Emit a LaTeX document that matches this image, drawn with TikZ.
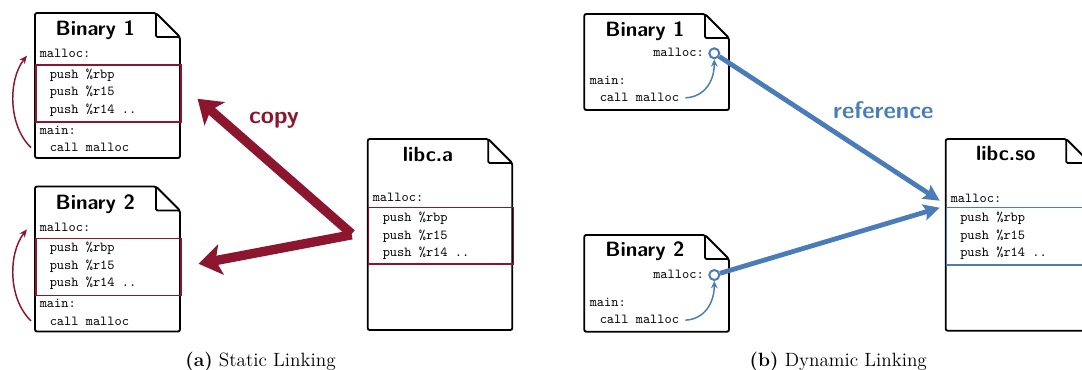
\documentclass[tikz,border=0pt]{standalone}
\usepackage{tikz}
\usetikzlibrary{positioning,calc,arrows.meta}
\definecolor{Crimson}{RGB}{140,22,46}
\definecolor{Steel}{RGB}{74,124,186}

% page with a folded corner: left, top, width, height (pixel units)
\newcommand{\docpage}[4]{%
  \draw[line width=1.4pt, rounded corners=1.5pt, fill=white] (#1,#2) -- (#1+#3-24,#2) -- (#1+#3,#2+24) -- (#1+#3,#2+#4) -- (#1,#2+#4) -- cycle;
  \draw[line width=1.4pt, rounded corners=1pt] (#1+#3-24,#2) -- (#1+#3-24,#2+24) -- (#1+#3,#2+24);
}
% the three push lines of malloc
\newcommand{\pushlines}[3]{%
  \node[code] (#1push1) at (#2,#3) {push \%rbp};
  \node[code] (#1push2) at (#2,#3+17.5) {push \%r15};
  \node[code] (#1push3) at (#2,#3+35) {push \%r14 ..};
}

\tikzset{
  title/.style={font=\fontsize{15.5}{17}\selectfont\sffamily\bfseries, anchor=base, inner sep=0},
  code/.style={font=\fontsize{10.3}{12}\selectfont\ttfamily, anchor=base west, inner sep=0},
  codebox/.style={draw=#1, line width=1.2pt, anchor=north west, inner sep=0,
    minimum width=145*0.75pt, minimum height=57*0.75pt},
  biglabel/.style={font=\fontsize{18}{20}\selectfont\sffamily\bfseries, anchor=base, inner sep=0},
  caption/.style={font=\fontsize{14.4}{16}\selectfont, anchor=base, inner sep=0},
  copyarrow/.style={draw=Crimson, line width=7pt, -{Stealth[length=17pt,width=23pt,inset=4pt]}},
  refarrow/.style={draw=Steel, line width=3.6pt, -{Stealth[length=12pt,width=12pt,inset=2pt]}},
  callarc/.style={draw=Crimson, line width=1.1pt, -{Stealth[length=6pt,width=5pt]}},
  callref/.style={draw=Steel, line width=1.1pt, -{Stealth[length=5.5pt,width=5pt]}},
  refdot/.style={circle, draw=Steel, line width=1.5pt, fill=white, minimum size=7.5pt, inner sep=0}
}

\begin{document}
\begin{tikzpicture}[x=0.75pt,y=-0.75pt]
\useasboundingbox (0,0) rectangle (1082,369);

% (a) static linking
\docpage{35}{13}{145}{145}
\node[title] (bin1a) at (95.3,35) {Binary 1};
\node[code] (bin1amalloc) at (39.5,57.3) {malloc:};
\node[codebox=Crimson] (bin1acode) at (35,64) {};
\pushlines{bin1a}{49.5}{78.3}
\node[code] (bin1amain) at (39.5,134) {main:};
\node[code] (bin1acall) at (49.5,151.7) {call malloc};
\draw[callarc] ($(bin1acall.west)+(-18.5,0)$) .. controls +(-23,-22) and +(-19,24) .. ($(bin1amalloc.west)+(-12.5,2.5)$);

\docpage{35}{186.5}{145}{145}
\node[title] (bin2a) at (95.3,209.3) {Binary 2};
\node[code] (bin2amalloc) at (39.5,231) {malloc:};
\node[codebox=Crimson] (bin2acode) at (35,237.5) {};
\pushlines{bin2a}{49.5}{251.8}
\node[code] (bin2amain) at (39.5,307.5) {main:};
\node[code] (bin2acall) at (49.5,325) {call malloc};
\draw[callarc] ($(bin2acall.west)+(-18.5,0)$) .. controls +(-23,-22) and +(-19,24) .. ($(bin2amalloc.west)+(-12.5,2.5)$);

\docpage{367.7}{139}{144.6}{191}
\node[title] (libca) at (428,161) {libc.a};
\node[code] (libcamalloc) at (372.5,201.7) {malloc:};
\node[codebox=Crimson, minimum height=56.6*0.75pt] (libcacode) at (367.7,206.7) {};
\pushlines{libca}{382.5}{221.7}

\coordinate (copyfrom) at ($(libcacode.west)+(-16,-2)$);
\draw[copyarrow] (copyfrom) -- ($(bin1acode.east)+(16,5.5)$);
\draw[copyarrow] ($(copyfrom)+(0,1)$) -- ($(bin2acode.east)+(17,-3)$);
\node[biglabel, text=Crimson] (copylbl) at (274,123.3) {copy};

% (b) dynamic linking
\docpage{584.3}{14}{144.7}{96}
\node[title] (bin1b) at (645,36) {Binary 1};
\node[code, anchor=base east] (bin1bmalloc) at (704,56.7) {malloc:};
\node[code] (bin1bmain) at (589.5,84) {main:};
\node[code] (bin1bcall) at (599.5,101) {call malloc};
\node[refdot] (bin1bdot) at (714.3,53.3) {};
\draw[callref] ($(bin1bcall.east)+(6,1)$) .. controls +(20,-1) and +(0,21) .. (bin1bdot.south);

\docpage{584.3}{235}{144.7}{96.7}
\node[title] (bin2b) at (645,256.7) {Binary 2};
\node[code, anchor=base east] (bin2bmalloc) at (704,278.3) {malloc:};
\node[code] (bin2bmain) at (589.5,306.7) {main:};
\node[code] (bin2bcall) at (599.5,323.3) {call malloc};
\node[refdot] (bin2bdot) at (714.3,275) {};
\draw[callref] ($(bin2bcall.east)+(6,1)$) .. controls +(20,-1) and +(0,21) .. (bin2bdot.south);

\docpage{945.7}{139}{144.6}{191.7}
\node[title] (libso) at (1005.7,160.7) {libc.so};
\node[code] (libsomalloc) at (950.5,202.3) {malloc:};
\node[codebox=Steel, minimum height=57.3*0.75pt] (libsocode) at (945.7,206.7) {};
\pushlines{libso}{960}{221.7}

\draw[refarrow] (bin1bdot) -- ($(libsocode.north west)+(-6,-6)$);
\draw[refarrow] (bin2bdot) -- ($(libsocode.north west)+(-6,1)$);
\node[biglabel, text=Steel] (reflbl) at (883.3,118.3) {reference};

% captions
\node[caption] (capa) at (260.5,366.7) {\textbf{(a)} Static Linking};
\node[caption] (capb) at (838.3,366.7) {\textbf{(b)} Dynamic Linking};
\end{tikzpicture}
\end{document}
